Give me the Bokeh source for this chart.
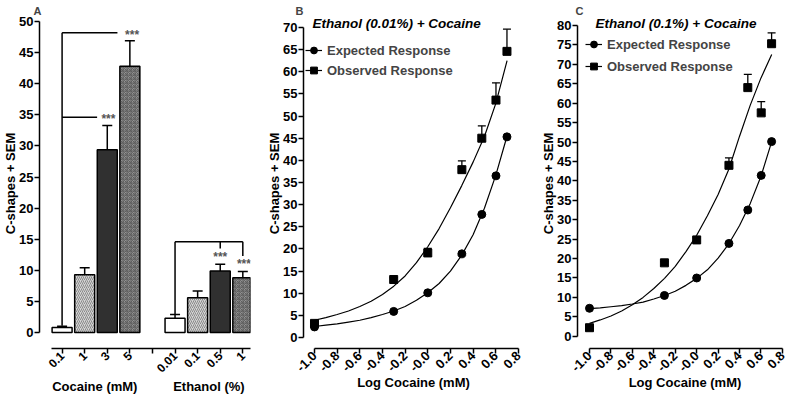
import math
from bokeh.plotting import figure
from bokeh.layouts import row
from bokeh.models import (ColumnDataSource, FixedTicker, LinearAxis, Whisker, TeeHead,
                          Legend, LegendItem, Range1d)
from bokeh.core.properties import value
from bokeh.embed import file_html
from bokeh.resources import INLINE

FONT = "Liberation Sans"

# ---------------- Panel A data ----------------
coc_labels = ["0.1", "1", "3", "5"]
coc_means = [0.8, 9.3, 29.4, 42.8]
coc_sem = [0.2, 1.1, 3.9, 4.1]
eth_labels = ["0.01", "0.1", "0.5", "1"]
eth_means = [2.3, 5.6, 9.9, 8.8]
eth_sem = [0.6, 1.1, 1.1, 1.0]
group_names = ["Cocaine (mM)", "Ethanol (%)"]
eth_bracket_level = 14.6
sig_marks = "***"

# ---------------- Panels B / C data ----------------
log_dose = [-1.0, -0.301, 0.0, 0.301, 0.477, 0.602, 0.699]
b_expected = [2.4, 5.9, 10.1, 18.9, 27.8, 36.5, 45.3]
b_observed = [3.2, 13.1, 19.1, 37.9, 45.0, 53.6, 64.6]
b_observed_sem = [0.3, 0.4, 1.0, 2.0, 2.8, 3.9, 5.0]
c_expected = [7.2, 10.5, 15.0, 23.9, 32.5, 41.4, 50.1]
c_observed = [2.2, 18.9, 24.8, 44.0, 64.0, 57.5, 75.3]
c_observed_sem = [0.3, 0.3, 0.5, 1.9, 3.4, 2.9, 2.8]

fit_x = [-1.0, -0.9, -0.8, -0.7, -0.6, -0.5, -0.4, -0.3, -0.2, -0.1,
         0.0, 0.1, 0.2, 0.3, 0.4, 0.5, 0.6, 0.7]
b_expected_fit = [2.5, 2.8, 3.1, 3.5, 3.9, 4.5, 5.2, 6.0, 7.0, 8.4,
                  10.1, 12.2, 15.0, 18.6, 23.2, 29.2, 36.6, 45.5]
b_observed_fit = [3.9, 4.5, 5.2, 6.0, 7.0, 8.2, 9.7, 11.6, 13.9, 16.9,
                  20.5, 24.6, 29.3, 34.3, 39.6, 45.4, 52.8, 62.5]
c_expected_fit = [7.1, 7.3, 7.6, 7.9, 8.3, 8.8, 9.6, 10.5, 11.6, 13.1,
                  14.9, 17.1, 20.1, 23.8, 28.5, 34.2, 41.2, 50.1]
c_observed_fit = [3.3, 4.2, 5.2, 6.5, 8.1, 10.0, 12.3, 14.9, 18.0, 21.8,
                  26.0, 31.0, 36.5, 43.0, 51.5, 59.5, 66.5, 72.5]

log_ticks = [-1.0, -0.8, -0.6, -0.4, -0.2, 0.0, 0.2, 0.4, 0.6, 0.8]
log_tick_labels = ["-1.0", "-0.8", "-0.6", "-0.4", "-0.2", "-0.0", "0.2", "0.4", "0.6", "0.8"]

YLABEL = "C-shapes + SEM"
XLABEL = "Log Cocaine (mM)"

MB_TOP = 18
MB_BOTTOM = 46


def style_axis(ax, fs="13px"):
    ax.major_label_text_font = FONT
    ax.major_label_text_font_style = "bold"
    ax.major_label_text_font_size = fs
    ax.major_label_text_color = "black"
    ax.axis_line_width = 1.5
    ax.axis_line_color = "black"
    ax.major_tick_line_width = 1.5
    ax.major_tick_line_color = "black"
    ax.major_tick_in = 0
    ax.major_tick_out = 5
    ax.minor_tick_line_color = None
    ax.axis_label_text_font = FONT
    ax.axis_label_text_font_style = "bold"
    ax.axis_label_text_font_size = "13px"
    ax.axis_label_text_color = "black"
    ax.axis_label_standoff = -2
    ax.major_label_standoff = 1


def base_fig(width, xr, yr, mbl, mbr, letter, letter_offset):
    p = figure(width=width, height=396, x_range=Range1d(*xr), y_range=Range1d(*yr),
               output_backend="svg", toolbar_location=None,
               min_border_left=mbl, min_border_right=mbr,
               min_border_top=MB_TOP, min_border_bottom=MB_BOTTOM,
               title=letter)
    p.title.text_font = FONT
    p.title.text_font_style = "bold"
    p.title.text_font_size = "11px"
    p.title.align = "left"
    p.title.vertical_align = "top"
    p.title.offset = letter_offset
    p.title.standoff = 0
    p.xgrid.visible = False
    p.ygrid.visible = False
    p.outline_line_color = None
    p.background_fill_color = "white"
    p.border_fill_color = "white"
    return p


# ---------------- Panel A ----------------
slots = [1, 2, 3, 4, 6, 7, 8, 9]
means = coc_means + eth_means
sems = coc_sem + eth_sem
fills = ["white", "#d4d4d4", "#303030", "#929292"] * 2
hatches = [" ", "right_diagonal_line", " ", "criss_cross"] * 2
hcolors = ["white", "#8a8a8a", "#303030", "#5e5e5e"] * 2

pa = base_fig(262, (0.0, 9.34), (-2.56, 50.48), 38, 12, "A", -6)
src_a = ColumnDataSource(dict(x=slots, top=means, fill=fills, hatch=hatches, hcol=hcolors,
                              lower=means, upper=[m + s for m, s in zip(means, sems)]))
pa.vbar(x="x", top="top", width=0.885, bottom=0, source=src_a, fill_color="fill",
        line_color="black", line_width=1.5, hatch_pattern="hatch", hatch_color="hcol",
        hatch_scale=4, hatch_weight=1)
pa.add_layout(Whisker(source=src_a, base="x", lower="lower", upper="upper", dimension="height",
                      line_width=1.5, line_color="black",
                      upper_head=TeeHead(size=10, line_width=1.5, line_color="black"),
                      lower_head=None))

# significance brackets (cocaine)
coc_tops = [m + s for m, s in zip(coc_means, coc_sem)]
lvl3 = coc_tops[2] + 1.3
lvl5 = coc_tops[3] + 1.3
pa.segment(x0=[1, 1, 1], y0=[coc_tops[0] + 0.1, lvl3, lvl5],
           x1=[1, 2.55, 3.45], y1=[lvl5, lvl3, lvl5], line_color="black", line_width=1.5)
# ethanol bracket
eth_tops = [m + s for m, s in zip(eth_means, eth_sem)]
star8 = eth_tops[2] + 1.5
star9 = eth_tops[3] + 1.5
pa.segment(x0=[6, 6, 8, 9], y0=[eth_tops[0] + 0.1, eth_bracket_level, eth_bracket_level, eth_bracket_level],
           x1=[6, 9, 8, 9], y1=[eth_bracket_level, eth_bracket_level, star8 + 1.0, star9 + 1.0],
           line_color="black", line_width=1.5)
pa.text(x=[3.05, 4.1, 8, 9.05], y=[lvl3 - 0.3, lvl5 - 0.3, star8 - 0.3, star9 - 0.3],
        text=[sig_marks] * 4, text_font=value(FONT), text_font_style="bold",
        text_font_size="12px", text_align="center", text_baseline="middle", text_color="#555555")

pa.yaxis.ticker = FixedTicker(ticks=list(range(0, 51, 5)))
pa.yaxis.bounds = (0, 50)
pa.yaxis.axis_label = YLABEL
pa.xaxis.ticker = FixedTicker(ticks=[1, 2, 3, 4, 5, 6, 7, 8, 9])
pa.xaxis.major_label_overrides = {1: coc_labels[0], 2: coc_labels[1], 3: coc_labels[2], 4: coc_labels[3],
                                  5: "", 6: eth_labels[0], 7: eth_labels[1], 8: eth_labels[2], 9: eth_labels[3]}
pa.xaxis.major_label_orientation = math.pi / 4
pa.xaxis.bounds = (0.55, 9.34)
style_axis(pa.yaxis[0])
style_axis(pa.xaxis[0], "12px")
pa.xaxis.major_label_standoff = 0
grp = LinearAxis(ticker=FixedTicker(ticks=[2.45, 7.5]),
                 major_label_overrides={2.45: group_names[0], 7.5: group_names[1]})
style_axis(grp, "13px")
grp.axis_line_color = None
grp.major_tick_line_color = None
grp.major_tick_out = 0
grp.major_label_standoff = -1
pa.add_layout(grp, "below")


# ---------------- Panels B / C ----------------
def curve_panel(width, xr, yr, ymax, mbl, mbr, expected, observed, obs_sem,
                exp_fit, obs_fit, title, tx, ty, leg_loc, leg_spacing, let, let_off):
    p = base_fig(width, xr, yr, mbl, mbr, let, let_off)
    l1 = p.line(fit_x, exp_fit, line_color="black", line_width=1.2)
    l2 = p.line(fit_x, obs_fit, line_color="black", line_width=1.2)
    src = ColumnDataSource(dict(x=log_dose, y=observed,
                                up=[o + s for o, s in zip(observed, obs_sem)]))
    p.add_layout(Whisker(source=src, base="x", lower="y", upper="up", dimension="height",
                         line_width=1.3, line_color="black",
                         upper_head=TeeHead(size=8, line_width=1.3, line_color="black"),
                         lower_head=None))
    s1 = p.scatter(log_dose, expected, marker="circle", size=8, color="black")
    s2 = p.scatter(x="x", y="y", source=src, marker="square", size=8, color="black")
    leg = Legend(items=[LegendItem(label="Expected Response", renderers=[l1, s1]),
                        LegendItem(label="Observed Response", renderers=[l2, s2])],
                 location=leg_loc, margin=0, padding=0, spacing=leg_spacing,
                 glyph_width=17, glyph_height=20,
                 label_standoff=5, border_line_color=None, background_fill_alpha=0,
                 label_text_font=FONT, label_text_font_style="bold", label_text_font_size="13px")
    p.add_layout(leg)
    p.text(x=[tx], y=[ty], text=[title], text_font=value(FONT), text_font_style="bold italic",
           text_font_size="13.5px", text_baseline="middle", text_align="left", text_color="black")
    p.yaxis.ticker = FixedTicker(ticks=list(range(0, ymax + 1, 5)))
    p.yaxis.bounds = (0, ymax)
    p.yaxis.axis_label = YLABEL
    p.xaxis.ticker = FixedTicker(ticks=log_ticks)
    p.xaxis.major_label_overrides = dict(zip(log_ticks, log_tick_labels))
    p.xaxis.major_label_orientation = math.pi / 4
    p.xaxis.bounds = (-1.0, 0.8)
    p.xaxis.axis_label = XLABEL
    style_axis(p.yaxis[0])
    style_axis(p.xaxis[0], "13px")
    p.xaxis.major_label_standoff = 0
    p.xaxis.axis_label_standoff = -4
    return p


pb = curve_panel(274, (-1.097, 0.845), (-2.47, 72.02), 70, 41, 13,
                 b_expected, b_observed, b_observed_sem, b_expected_fit, b_observed_fit,
                 "Ethanol (0.01%) + Cocaine", -1.018, 70.9, (2, 268), 0, "B", -8)
pc = curve_panel(256, (-1.112, 0.894), (-3.15, 81.79), 80, 41, 0,
                 c_expected, c_observed, c_observed_sem, c_expected_fit, c_observed_fit,
                 "Ethanol (0.1%) + Cocaine", -0.944, 80.51, (8, 272), 2, "C", -2)

layout = row(pa, pb, pc, spacing=0)
open("out.html", "w").write(file_html(layout, INLINE))
